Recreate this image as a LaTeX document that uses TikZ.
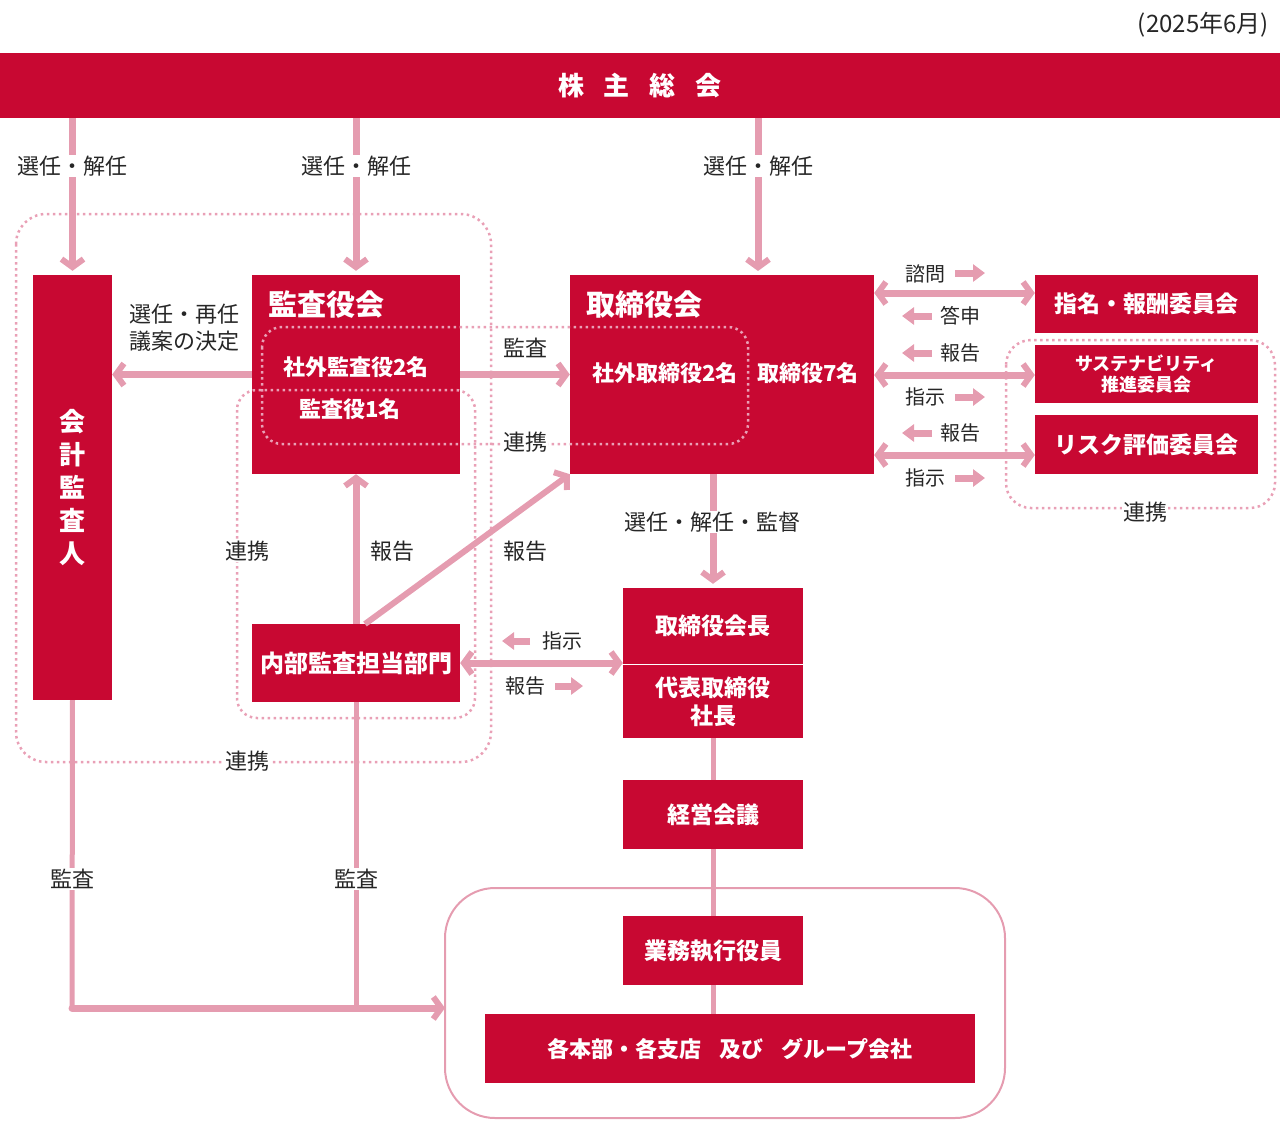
\documentclass[tikz,border=0pt]{standalone}
\usepackage{fontspec}
\setmainfont{Noto Sans CJK JP}
\usetikzlibrary{arrows.meta,positioning}
\definecolor{jred}{RGB}{200,8,50}
\definecolor{jpink}{RGB}{229,156,176}
\definecolor{jdot}{RGB}{233,160,182}
\tikzset{
  redbox/.style={fill=jred,text=white,inner sep=0pt,align=center,
    font=\bfseries\fontsize{23}{28}\selectfont},
  boxtitle/.style={text=white,inner sep=0pt,anchor=west,
    font=\bfseries\fontsize{29}{32}\selectfont},
  inbox/.style={text=white,inner sep=0pt,font=\bfseries\fontsize{22}{26}\selectfont},
  lbl/.style={text=black!85,inner sep=1pt,align=center,font=\fontsize{22}{27}\selectfont},
  onwhite/.style={lbl,fill=white},
  small/.style={text=black!85,inner sep=0pt,font=\fontsize{20}{24}\selectfont},
  grp/.style={draw=jdot,line width=2.5pt,dash pattern=on 2.5pt off 3.5pt,rounded corners=#1},
  chev/.tip={Straight Barb[length=8pt,width=22pt,line width=6pt]},
  bigarrow/.style={draw=jpink,line width=7pt,-chev},
  bothway/.style={draw=jpink,line width=7pt,chev-chev},
  link/.style={draw=jpink,line width=5pt},
  tinyarrow/.style={draw=jpink,line width=7pt,-{Triangle[length=12pt,width=17pt]}},
}
\begin{document}
\begin{tikzpicture}[x=1pt,y=-1pt]
\useasboundingbox (0,0) rectangle (1280,1125);
%
\node[lbl,anchor=east,font=\fontsize{24}{28}\selectfont] (date) at (1270,25) {(2025年6月)};
\node[redbox,minimum width=1280pt,minimum height=65pt,font=\bfseries\fontsize{26}{30}\selectfont] (soukai) at (640,85.5)
  {株\hspace{20pt}主\hspace{20pt}総\hspace{20pt}会};
%
\node[redbox,minimum width=79pt,minimum height=425pt,font=\bfseries\fontsize{26}{33}\selectfont] (kaikei) at (72.5,487.5)
  {会\\計\\監\\査\\人};
\node[redbox,minimum width=208pt,minimum height=199pt] (kansa) at (356,374.5) {};
\node[redbox,minimum width=304pt,minimum height=199pt] (torishimari) at (722,374.5) {};
\node[boxtitle] (kansat) at (268,305) {監査役会};
\node[boxtitle] (torit) at (586,305) {取締役会};
\node[inbox] (shagaik) at (356,367) {社外監査役2名};
\node[inbox] (jokin) at (350,409) {監査役1名};
\node[inbox] (shagait) at (665,373) {社外取締役2名};
\node[inbox] (torinin) at (808,373) {取締役7名};
%
\node[redbox,minimum width=223pt,minimum height=58pt] (shimei) at (1146.5,304) {指名・報酬委員会};
\node[redbox,minimum width=223pt,minimum height=58pt,font=\bfseries\fontsize{18}{21}\selectfont] (sustain) at (1146.5,374)
  {サステナビリティ\\推進委員会};
\node[redbox,minimum width=223pt,minimum height=59pt] (risk) at (1146.5,444.5) {リスク評価委員会};
%
\node[redbox,minimum width=208pt,minimum height=78pt,font=\bfseries\fontsize{24}{28}\selectfont] (naibu) at (356,663) {内部監査担当部門};
\node[redbox,minimum width=180pt,minimum height=76pt] (kaicho) at (713,626) {取締役会長};
\node[redbox,minimum width=180pt,minimum height=73pt] (shacho) at (713,701.5) {代表取締役\\社長};
\node[redbox,minimum width=180pt,minimum height=69pt] (keiei) at (713,814.5) {経営会議};
\node[redbox,minimum width=180pt,minimum height=69pt] (gyomu) at (713,950.5) {業務執行役員};
\node[redbox,minimum width=490pt,minimum height=69pt,font=\bfseries\fontsize{22}{26}\selectfont] (kakubu) at (730,1048.5)
  {各本部・各支店\hspace{18pt}及び\hspace{18pt}グループ会社};
%
% groups
\draw[grp=30pt] (16,214) rectangle (491,762);
\draw[grp=20pt] (237,390) rectangle (475,718);
\draw[grp=20pt] (262,327) rectangle (748,444);
\draw[grp=25pt] (1006,340) rectangle (1275,508);
\draw[jpink,line width=2pt,rounded corners=50pt] (445,888) rectangle (1005,1118);
%
% election from the general meeting
\coordinate (toriin) at (758,275);
\draw[bigarrow,shorten >=4pt] (soukai.south -| kaikei) -- (kaikei.north);
\draw[bigarrow,shorten >=4pt] (soukai.south -| kansa) -- (kansa.north);
\draw[bigarrow,shorten >=4pt] (soukai.south -| toriin) -- (toriin);
\foreach \X in {72,356,758}
  \node[onwhite] at (\X,166) {選任・解任};
%
\draw[bigarrow] (kansa.west) -- (kansa.west -| kaikei.east);
\draw[bigarrow] (kansa.east) -- (torishimari.west);
\draw[bigarrow] (naibu.north) -- (kansa.south);
\coordinate (naibud) at (365,624);
\draw[bigarrow,line width=6pt] (naibud) -- (torishimari.south west);
\draw[bothway] (naibu.east) -- (naibu.east -| kaicho.west);
\draw[bigarrow,shorten >=4pt] (torishimari.south -| kaicho) -- (kaicho.north);
%
\foreach \Source/\Target in {%
    shacho.south/keiei.north,
    keiei.south/gyomu.north%
    }
\draw[link] (\Source) -- (\Target);
\draw[link] (gyomu.south) -- (gyomu.south |- kakubu.north);
%
\coordinate (corner) at (72,1008);
\coordinate (grpin) at (445,1008);
\draw[link] (kaikei.south) -- (corner);
\draw[link] (naibu.south) -- (naibu.south |- corner);
\draw[bigarrow,line cap=round] (corner) -- (grpin);
%
% committees
\draw[bothway] (torishimari.east |- 0,293) -- (shimei.west |- 0,293);
\draw[bothway] (torishimari.east |- 0,375) -- (sustain.west |- 0,375);
\draw[bothway] (torishimari.east |- 0,455) -- (risk.west |- 0,455);
\draw[tinyarrow] (955,273) -- (985,273);
\draw[tinyarrow] (932,316) -- (902,316);
\draw[tinyarrow] (932,353) -- (902,353);
\draw[tinyarrow] (955,397) -- (985,397);
\draw[tinyarrow] (932,433) -- (902,433);
\draw[tinyarrow] (955,478) -- (985,478);
\node[small] at (925,274) {諮問};
\node[small] at (960,316) {答申};
\node[small] at (960,353) {報告};
\node[small] at (925,397) {指示};
\node[small] at (960,433) {報告};
\node[small] at (925,478) {指示};
%
\draw[tinyarrow] (530,641) -- (502,641);
\draw[tinyarrow] (555,686) -- (583,686);
\node[small] at (562,641) {指示};
\node[small] at (525,686) {報告};
%
% labels
\node[lbl] at (184,328) {選任・再任\\議案の決定};
\node[lbl] at (525,348) {監査};
\node[onwhite] at (525,442) {連携};
\node[onwhite] at (247,551) {連携};
\node[lbl] at (392,551) {報告};
\node[lbl] at (525,551) {報告};
\node[onwhite] at (247,761) {連携};
\node[onwhite] at (1145,512) {連携};
\node[onwhite] at (712,522) {選任・解任・監督};
\node[onwhite] at (72,879) {監査};
\node[onwhite] at (356,879) {監査};
\end{tikzpicture}
\end{document}
